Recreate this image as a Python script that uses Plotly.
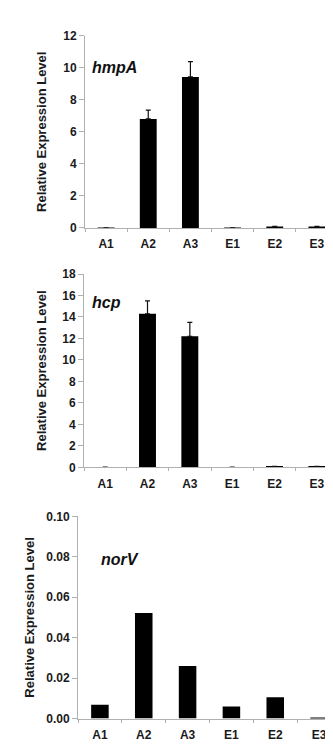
import plotly.graph_objects as go

categories = ["A1", "A2", "A3", "E1", "E2", "E3"]

hmpA_values = [0.01, 6.8, 9.42, 0.01, 0.07, 0.07]
hmpA_errors = [0.0, 0.55, 0.95, 0.0, 0.02, 0.02]

hcp_values = [0.01, 14.3, 12.2, 0.01, 0.06, 0.06]
hcp_errors = [0.0, 1.2, 1.3, 0.0, 0.02, 0.02]

norV_values = [0.0068, 0.0522, 0.026, 0.006, 0.0105, 0.0005]

genes = ["hmpA", "hcp", "norV"]
y_ranges = [[0, 12], [0, 18], [0, 0.10]]
y_dticks = [2, 2, 0.02]
y_formats = ["d", "d", ".2f"]

W, H = 333, 744
# plot areas in pixels: (left, right, top, bottom)
areas = [(77, 330, 21, 217), (76, 330, 264, 461), (70, 333, 511, 717)]
title_standoffs = [13, 12, 8]

AX = "#b0b0b0"
TXT = "#1a1a1a"
FONT = "Liberation Sans, Arial, sans-serif"

fig = go.Figure()
series = [(hmpA_values, hmpA_errors), (hcp_values, hcp_errors), (norV_values, None)]
for i, (vals, errs) in enumerate(series):
    n = i + 1
    kw = {}
    if errs is not None:
        kw["error_y"] = dict(type="data", symmetric=False, array=errs,
                             arrayminus=[0] * len(errs), color="#111111",
                             thickness=1.2, width=2.5)
    fig.add_trace(go.Bar(x=categories, y=vals, marker=dict(color="#000000", line=dict(width=0)),
                         width=0.4, xaxis=f"x{n}", yaxis=f"y{n}", showlegend=False, **kw))

layout = dict(width=W, height=H, margin=dict(l=0, r=0, t=0, b=0),
              paper_bgcolor="white", plot_bgcolor="white",
              font=dict(family=FONT, color=TXT), showlegend=False)
for i, (l, r, t, b) in enumerate(areas):
    n = "" if i == 0 else str(i + 1)
    layout[f"xaxis{n}"] = dict(domain=[l / W, min(r / W, 1)], anchor=f"y{i+1}",
                               showline=True, linecolor=AX, linewidth=1,
                               ticks="outside", tickson="boundaries", ticklen=3,
                               tickcolor=AX, ticklabelstandoff=5,
                               tickfont=dict(size=12, family=FONT, color=TXT, weight="bold"),
                               showgrid=False, zeroline=False, fixedrange=True)
    layout[f"yaxis{n}"] = dict(domain=[1 - b / H, 1 - t / H], anchor=f"x{i+1}",
                               range=y_ranges[i], dtick=y_dticks[i], tickformat=y_formats[i],
                               showline=True, linecolor=AX, linewidth=1,
                               ticks="outside", ticklen=5, tickcolor=AX,
                               tickfont=dict(size=12, family=FONT, color=TXT, weight="bold"),
                               showgrid=False, zeroline=False,
                               title=dict(text="Relative Expression Level",
                                          font=dict(size=13, family=FONT, color=TXT, weight="bold"),
                                          standoff=title_standoffs[i]))
fig.update_layout(**layout)

gene_pos = [(82, 53), (82, 293), (91, 555)]
for i, g in enumerate(genes):
    x, y = gene_pos[i]
    fig.add_annotation(text=f"<b><i>{g}</i></b>", x=x / W, y=1 - y / H, xref="paper", yref="paper",
                       xanchor="left", yanchor="middle", showarrow=False,
                       font=dict(size=16, family=FONT, color="#111111"))

fig.write_html("out.html")
